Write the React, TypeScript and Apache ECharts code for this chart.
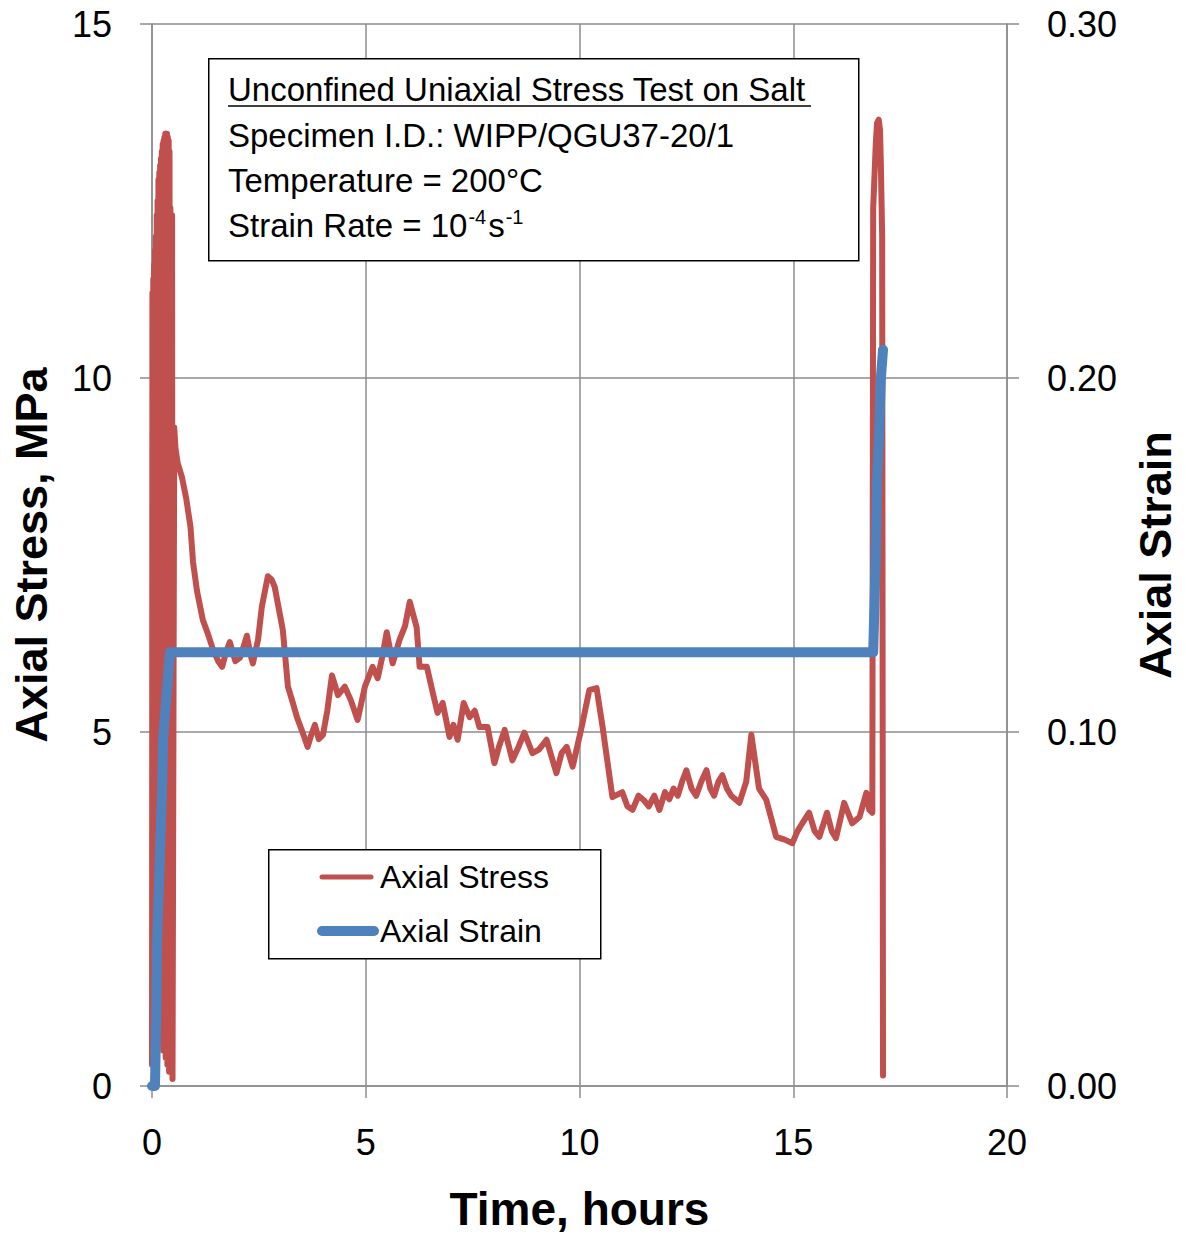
import React, { useEffect, useRef } from "react";
import * as echarts from "echarts";

// ---- Data ----
// Initial loading cycles (dense oscillation), then creep and final loading spike.
const stressTime = [
  0.0, 0.01, 0.02, 0.03, 0.04, 0.05, 0.06, 0.07, 0.08, 0.09, 0.1, 0.11, 0.12, 0.13, 0.14, 0.15, 0.16, 0.17,
  0.18, 0.19, 0.2, 0.21, 0.22, 0.23, 0.24, 0.25, 0.26, 0.27, 0.28, 0.29, 0.3, 0.31, 0.32, 0.33, 0.34, 0.35,
  0.36, 0.37, 0.38, 0.39, 0.4, 0.41, 0.42, 0.43, 0.44, 0.45, 0.46, 0.47, 0.48, 0.52, 0.55,
  0.6, 0.7, 0.8, 0.9, 0.96, 1.05, 1.19, 1.3, 1.43, 1.55, 1.64, 1.72, 1.82, 1.95, 2.06, 2.14, 2.22, 2.3, 2.36,
  2.48, 2.57, 2.71, 2.8, 2.87, 3.06, 3.18, 3.3, 3.39, 3.52, 3.64, 3.72, 3.81, 3.9, 4.0, 4.1, 4.21, 4.35, 4.51,
  4.65, 4.81, 4.98, 5.16, 5.28, 5.4, 5.49, 5.63, 5.79, 5.92, 6.03, 6.19, 6.26, 6.43, 6.57, 6.68, 6.8, 6.96,
  7.05, 7.15, 7.29, 7.43, 7.55, 7.66, 7.85, 8.01, 8.12, 8.25, 8.43, 8.58, 8.71, 8.9, 9.05, 9.23, 9.46, 9.58,
  9.7, 9.84, 10.05, 10.23, 10.4, 10.54, 10.77, 11.0, 11.12, 11.24, 11.38, 11.5, 11.62, 11.75, 11.87, 12.0,
  12.1, 12.2, 12.3, 12.4, 12.5, 12.62, 12.73, 12.85, 12.97, 13.06, 13.15, 13.25, 13.34, 13.45, 13.55, 13.74,
  13.9, 14.02, 14.2, 14.37, 14.6, 14.8, 14.98, 15.1, 15.2, 15.37, 15.5, 15.61, 15.79, 15.9, 16.0, 16.19,
  16.38, 16.55, 16.71, 16.78, 16.85, 16.87, 16.89, 16.93, 16.96, 17.0, 17.03, 17.05, 17.08, 17.1,
];
const stressValue = [
  0.3, 11.2, 1.6, 11.4, 1.5, 11.6, 1.4, 11.8, 1.2, 12.0, 1.0, 12.3, 0.9, 12.5, 0.8, 12.8, 0.8, 12.9,
  0.7, 13.0, 0.7, 13.1, 0.6, 13.2, 0.6, 13.3, 0.5, 13.35, 0.5, 13.4, 0.5, 13.45, 0.4, 13.45, 0.4, 13.45,
  0.3, 13.4, 0.3, 13.35, 0.2, 13.2, 0.2, 12.4, 0.3, 12.3, 0.2, 12.3, 0.1, 9.3, 9.0,
  8.8, 8.6, 8.3, 7.9, 7.4, 7.0, 6.58, 6.4, 6.16, 6.0, 5.92, 6.1, 6.27, 6.0, 6.05, 6.2, 6.36, 6.1, 5.97,
  6.3, 6.77, 7.2, 7.15, 7.05, 6.44, 5.64, 5.4, 5.21, 5.0, 4.79, 4.95, 5.1, 4.9, 4.96, 5.3, 5.8, 5.52, 5.64,
  5.45, 5.17, 5.64, 5.92, 5.76, 6.1, 6.41, 5.97, 6.3, 6.5, 6.84, 6.48, 5.92, 5.92, 5.55, 5.27, 5.41, 4.93,
  5.1, 4.89, 5.41, 5.21, 5.3, 5.07, 5.07, 4.56, 4.8, 5.03, 4.6, 4.8, 4.99, 4.7, 4.75, 4.89, 4.42, 4.7,
  4.79, 4.51, 5.07, 5.59, 5.62, 5.07, 4.08, 4.15, 3.95, 3.9, 4.1, 4.04, 3.95, 4.1, 3.9, 4.15,
  4.05, 4.2, 4.1, 4.3, 4.46, 4.2, 4.1, 4.3, 4.46, 4.2, 4.1, 4.3, 4.39, 4.2, 4.1, 4.0,
  4.3, 4.96, 4.2, 4.04, 3.52, 3.48, 3.43, 3.6, 3.7, 3.86, 3.6, 3.52, 3.86, 3.6, 3.5, 4.0,
  3.71, 3.8, 4.14, 3.9, 3.86, 12.4, 12.7, 13.3, 13.6, 13.65, 13.5, 13.0, 12.0, 0.15,
];

const strainTime = [0, 0.07, 0.1, 0.12, 0.17, 0.23, 0.26, 0.33, 0.37, 0.42, 16.87, 16.9, 16.93, 16.96, 17.01, 17.05, 17.1];
const strainValue = [0, 0, 0.02, 0.041, 0.06, 0.081, 0.098, 0.109, 0.115, 0.1225, 0.1225, 0.136, 0.15, 0.171, 0.185, 0.2, 0.208];

const xTicks = { min: 0, max: 20, interval: 5 };
const stressTicks = { min: 0, max: 15, interval: 5 };
const strainTicks = { min: 0, max: 0.3, interval: 0.1 };

const infoLines = [
  "Unconfined Uniaxial Stress Test on Salt",
  "Specimen I.D.: WIPP/QGU37-20/1",
  "Temperature = 200°C",
];
const legendNames = ["Axial Stress", "Axial Strain"];

const RED = "#C0504D";
const BLUE = "#4F81BD";
const GRID = "#8C8C8C";
const FONT = "'Liberation Sans', Arial, sans-serif";

export default function App() {
  const ref = useRef<HTMLDivElement>(null);
  useEffect(() => {
    if (!ref.current) return;
    const chart = echarts.init(ref.current, undefined, { renderer: "svg" });
    const stressData = stressTime.map((t, i) => [t, stressValue[i]]);
    const strainData = strainTime.map((t, i) => [t, strainValue[i]]);

    const axisLine = { show: true, lineStyle: { color: GRID, width: 1.5 } };
    const axisTick = { show: true, length: 12, lineStyle: { color: GRID, width: 1.5 } };
    const splitLine = { show: true, lineStyle: { color: GRID, width: 1.5 } };
    const labelStyle = { color: "#000", fontSize: 36, fontFamily: FONT };

    chart.setOption({
      animation: false,
      backgroundColor: "#fff",
      textStyle: { fontFamily: FONT },
      grid: { left: 152, right: 178, top: 24, bottom: 151, containLabel: false },
      xAxis: {
        type: "value",
        ...xTicks,
        name: "Time, hours",
        nameLocation: "middle",
        nameGap: 100,
        nameTextStyle: { color: "#000", fontSize: 46, fontWeight: "bold", fontFamily: FONT },
        axisLine,
        axisTick,
        splitLine,
        axisLabel: { ...labelStyle, margin: 38 },
      },
      yAxis: [
        {
          type: "value",
          ...stressTicks,
          position: "left",
          name: "Axial Stress, MPa",
          nameLocation: "middle",
          nameRotate: 90,
          nameGap: 98,
          nameTextStyle: { color: "#000", fontSize: 45, fontWeight: "bold", fontFamily: FONT },
          axisLine,
          axisTick,
          splitLine,
          axisLabel: { ...labelStyle, margin: 40 },
        },
        {
          type: "value",
          ...strainTicks,
          position: "right",
          name: "Axial Strain",
          nameLocation: "middle",
          nameRotate: 90,
          nameGap: 126,
          nameTextStyle: { color: "#000", fontSize: 45, fontWeight: "bold", fontFamily: FONT },
          axisLine,
          axisTick,
          splitLine: { show: false },
          axisLabel: { ...labelStyle, margin: 40, formatter: (v: number) => v.toFixed(2) },
        },
      ],
      series: [
        {
          name: legendNames[0],
          type: "line",
          yAxisIndex: 0,
          data: stressData,
          showSymbol: false,
          symbol: "none",
          color: RED,
          lineStyle: { color: RED, width: 6, cap: "round", join: "round" },
          z: 2,
        },
        {
          name: legendNames[1],
          type: "line",
          yAxisIndex: 1,
          data: strainData,
          showSymbol: false,
          symbol: "none",
          color: BLUE,
          lineStyle: { color: BLUE, width: 10, cap: "round", join: "round" },
          z: 3,
        },
      ],
      graphic: [
        // info box
        {
          type: "rect",
          left: 208,
          top: 58,
          shape: { width: 650, height: 202 },
          style: { fill: "#fff", stroke: "#000", lineWidth: 1.5 },
          z: 10,
        },
        ...infoLines.map((line, i) => ({
          type: "text",
          left: 228,
          top: 73 + i * 45.5,
          style: { text: line, fill: "#000", font: `33px ${FONT}` },
          z: 11,
        })),
        {
          type: "line",
          shape: { x1: 228, y1: 106, x2: 811, y2: 106 },
          style: { stroke: "#000", lineWidth: 1.5 },
          z: 11,
        },
        {
          type: "text",
          left: 228,
          top: 207,
          style: {
            text: "Strain Rate = 10{sup|-4}s{sup|-1}",
            fill: "#000",
            font: `33px ${FONT}`,
            rich: {
              sup: { fontSize: 20, fontFamily: FONT, fill: "#000", verticalAlign: "top", lineHeight: 36, padding: [0, 2, 14, 1] },
            },
          },
          z: 11,
        },
        // legend
        {
          type: "rect",
          left: 268,
          top: 849,
          shape: { width: 332, height: 109 },
          style: { fill: "#fff", stroke: "#000", lineWidth: 1.5 },
          z: 10,
        },
        {
          type: "line",
          shape: { x1: 322, y1: 877, x2: 371, y2: 877 },
          style: { stroke: RED, lineWidth: 5, lineCap: "round" },
          z: 11,
        },
        {
          type: "line",
          shape: { x1: 322, y1: 931, x2: 374, y2: 931 },
          style: { stroke: BLUE, lineWidth: 10, lineCap: "round" },
          z: 11,
        },
        ...legendNames.map((name, i) => ({
          type: "text",
          x: 380,
          y: 877 + i * 54,
          style: { text: name, fill: "#000", font: `32px ${FONT}`, verticalAlign: "middle", align: "left" },
          z: 11,
        })),
      ],
    });
    return () => chart.dispose();
  }, []);
  return <div ref={ref} style={{ position: "absolute", left: 0, top: 0, width: 1186, height: 1237 }} />;
}
